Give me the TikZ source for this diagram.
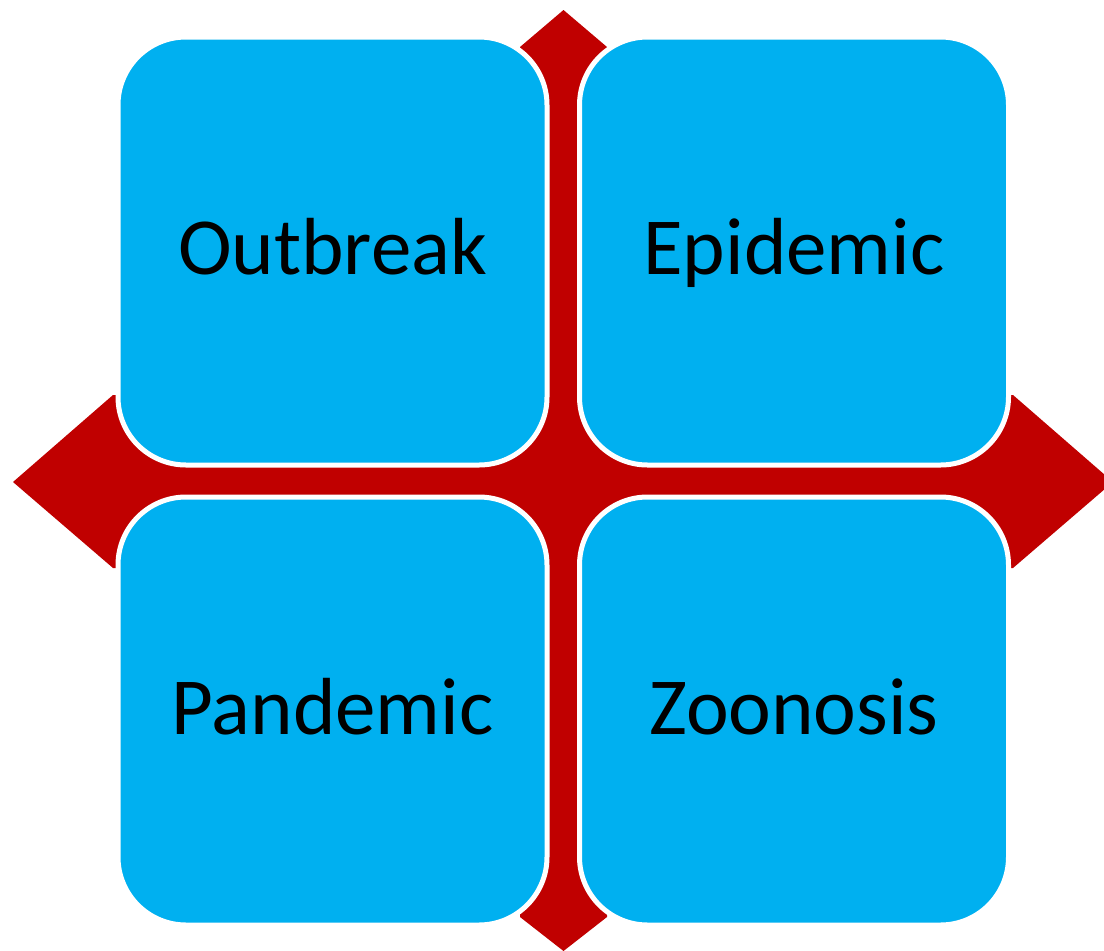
\documentclass[tikz,border=0pt]{standalone}
\usepackage{fontspec}
\setmainfont{Carlito}
\definecolor{quadblue}{HTML}{00B0F0}
\definecolor{crossred}{HTML}{C00000}
\begin{document}
\begin{tikzpicture}[x=1pt,y=-1pt,
  quad/.style={draw=white, line width=5pt, fill=quadblue, rounded corners=68pt,
    minimum width=429pt, minimum height=428pt, inner sep=0pt,
    font=\fontsize{81}{90}\selectfont, text=black,
    text height=47pt, text depth=0pt}]
\clip (0,0) rectangle (1104,951);
\fill[white] (0,0) rectangle (1104,951);
% four-way arrow behind the quadrants
\fill[crossred] (13,482) -- (113,395) -- (520,395) -- (520,47) -- (563.5,10)
  -- (607,47) -- (607,395) -- (1013,395) -- (1113,482) -- (1013,568)
  -- (607,568) -- (607,917) -- (563.5,951) -- (520,917) -- (520,568)
  -- (113,568) -- cycle;
% quadrants
\node[quad] (outbreak) at (332.5,251) {Outbreak};
\node[quad] (epidemic) at (794,251) {Epidemic};
\node[quad] (pandemic) at (332.5,711) {Pandemic};
\node[quad] (zoonosis) at (794,711) {Zoonosis};
\end{tikzpicture}
\end{document}
